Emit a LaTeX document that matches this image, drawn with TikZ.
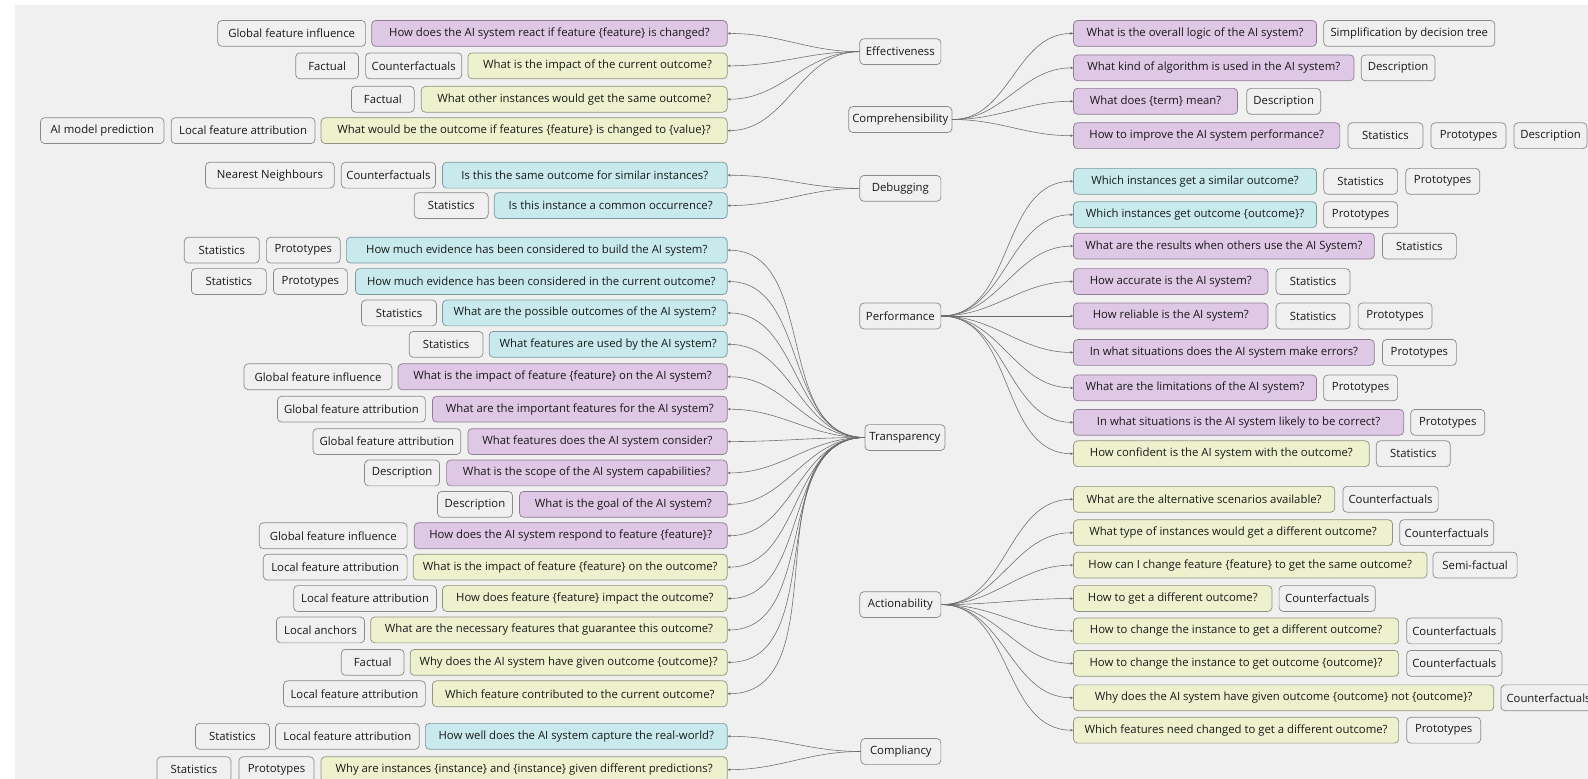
\documentclass[tikz,border=0pt]{standalone}
\usepackage{fontspec}
\setmainfont{Open Sans}
\usetikzlibrary{arrows.meta}
\definecolor{canvas}{HTML}{F0F0F0}
\definecolor{pfill}{HTML}{DFC7E6}
\definecolor{pline}{HTML}{8E7E93}
\definecolor{yfill}{HTML}{EEF1CE}
\definecolor{yline}{HTML}{939380}
\definecolor{cfill}{HTML}{C9EAED}
\definecolor{cline}{HTML}{7A9A9D}
\definecolor{tline}{HTML}{8A8A8A}
\definecolor{wire}{HTML}{6A6A6A}
\tikzset{
  box/.style={rounded corners=4pt, line width=0.7pt, inner xsep=0pt, inner ysep=0pt,
    minimum height=25.5pt, font=\fontsize{11.2}{13}\selectfont, text=black!90},
  tag/.style={box, draw=tline, fill=canvas},
  cat/.style={box, draw=tline, fill=canvas},
  qp/.style={box, draw=pline, fill=pfill},
  qy/.style={box, draw=yline, fill=yfill},
  qc/.style={box, draw=cline, fill=cfill},
  edge/.style={draw=wire, line width=0.55pt, -{Stealth[length=3pt,width=2.6pt]}},
}
% \bx{style}{name}{left}{right}{y}{text}
\newcommand\bx[6]{\node[#1, minimum width={(#4-#3)*1pt}] (#2) at ({(#3+#4)/2}, -#5) {#6};}
\begin{document}
\begin{tikzpicture}[x=1pt, y=1pt]
\fill[white] (0,0) rectangle (1568,-769);
\fill[canvas] (14.8,-5) rectangle (1568,-769);
\useasboundingbox (0,0) rectangle (1568,-769);

% ---------- categories ----------
\bx{cat}{eff}{849}{929}{51}{Effectiveness}
\bx{cat}{dbg}{849}{929}{186}{Debugging}
\bx{cat}{tra}{854}{933}{432}{Transparency}
\bx{cat}{cmp}{850}{929}{742}{Compliancy}
\bx{cat}{com}{838}{940}{118}{Comprehensibility}
\bx{cat}{per}{849}{929}{312}{Performance}
\bx{cat}{act}{849}{929}{597}{Actionability}

% ---------- Effectiveness ----------
\bx{qp}{q1}{367}{718}{33}{How does the AI system react if feature \{feature\} is changed?}
\bx{tag}{t1a}{215}{361}{33}{Global feature influence}
\bx{qy}{q2}{462}{718}{65}{What is the impact of the current outcome?}
\bx{tag}{t2a}{361}{456}{65}{Counterfactuals}
\bx{tag}{t2b}{292}{354}{65}{Factual}
\bx{qy}{q3}{416}{718}{98}{What other instances would get the same outcome?}
\bx{tag}{t3a}{347}{409}{98}{Factual}
\bx{qy}{q4}{317}{718}{129}{What would be the outcome if features \{feature\} is changed to \{value\}?}
\bx{tag}{t4a}{169}{311}{129}{Local feature attribution}
\bx{tag}{t4b}{40}{162}{129}{AI model prediction}

% ---------- Debugging ----------
\bx{qc}{q5}{437}{718}{173}{Is this the same outcome for similar instances?}
\bx{tag}{t5a}{337}{430}{173}{Counterfactuals}
\bx{tag}{t5b}{203}{330}{173}{Nearest Neighbours}
\bx{qc}{q6}{488}{718}{203}{Is this instance a common occurrence?}
\bx{tag}{t6a}{409}{482}{203}{Statistics}

% ---------- Transparency ----------
\bx{qc}{q7}{342}{718}{247}{How much evidence has been considered to build the AI system?}
\bx{tag}{t7a}{263}{336}{247}{Prototypes}
\bx{tag}{t7b}{182}{256}{247}{Statistics}
\bx{qc}{q8}{351}{718}{278}{How much evidence has been considered in the current outcome?}
\bx{tag}{t8a}{270}{343}{278}{Prototypes}
\bx{tag}{t8b}{189}{263}{278}{Statistics}
\bx{qc}{q9}{437}{718}{309}{What are the possible outcomes of the AI system?}
\bx{tag}{t9a}{357}{431}{309}{Statistics}
\bx{qc}{q10}{483}{718}{340}{What features are used by the AI system?}
\bx{tag}{t10a}{404}{477}{340}{Statistics}
\bx{qp}{q11}{393}{718}{372}{What is the impact of feature \{feature\} on the AI system?}
\bx{tag}{t11a}{241}{387}{372}{Global feature influence}
\bx{qp}{q12}{427}{718}{404}{What are the important features for the AI system?}
\bx{tag}{t12a}{274}{420}{404}{Global feature attribution}
\bx{qp}{q13}{462}{718}{436}{What features does the AI system consider?}
\bx{tag}{t13a}{309}{455}{436}{Global feature attribution}
\bx{qp}{q14}{441}{718}{467}{What is the scope of the AI system capabilities?}
\bx{tag}{t14a}{360}{434}{467}{Description}
\bx{qp}{q15}{513}{718}{498}{What is the goal of the AI system?}
\bx{tag}{t15a}{432}{506}{498}{Description}
\bx{qp}{q16}{409}{718}{529}{How does the AI system respond to feature \{feature\}?}
\bx{tag}{t16a}{256}{402}{529}{Global feature influence}
\bx{qy}{q17}{408}{718}{560}{What is the impact of feature \{feature\} on the outcome?}
\bx{tag}{t17a}{260}{402}{560}{Local feature attribution}
\bx{qy}{q18}{437}{718}{591}{How does feature \{feature\} impact the outcome?}
\bx{tag}{t18a}{290}{431}{591}{Local feature attribution}
\bx{qy}{q19}{366}{718}{622}{What are the necessary features that guarantee this outcome?}
\bx{tag}{t19a}{273}{360}{622}{Local anchors}
\bx{qy}{q20}{405}{718}{654}{Why does the AI system have given outcome \{outcome\}?}
\bx{tag}{t20a}{337}{399}{654}{Factual}
\bx{qy}{q21}{427}{718}{685}{Which feature contributed to the current outcome?}
\bx{tag}{t21a}{280}{420}{685}{Local feature attribution}

% ---------- Compliancy ----------
\bx{qc}{q22}{420}{718}{727}{How well does the AI system capture the real-world?}
\bx{tag}{t22a}{272}{414}{727}{Local feature attribution}
\bx{tag}{t22b}{193}{266}{727}{Statistics}
\bx{qy}{q23}{317}{718}{760}{Why are instances \{instance\} and \{instance\} given different predictions?}
\bx{tag}{t23a}{236}{310}{760}{Prototypes}
\bx{tag}{t23b}{155}{228}{760}{Statistics}

% ---------- Comprehensibility ----------
\bx{qp}{q24}{1060}{1300}{33}{What is the overall logic of the AI system?}
\bx{tag}{t24a}{1307}{1476}{33}{Simplification by decision tree}
\bx{qp}{q25}{1060}{1337}{67}{What kind of algorithm is used in the AI system?}
\bx{tag}{t25a}{1344}{1417}{67}{Description}
\bx{qp}{q26}{1060}{1222}{100}{What does \{term\} mean?}
\bx{tag}{t26a}{1231}{1304}{100}{Description}
\bx{qp}{q27}{1060}{1323}{134}{How to improve the AI system performance?}
\bx{tag}{t27a}{1331}{1405}{134}{Statistics}
\bx{tag}{t27b}{1413}{1487}{134}{Prototypes}
\bx{tag}{t27c}{1495}{1567}{134}{Description}

% ---------- Performance ----------
\bx{qc}{q28}{1060}{1300}{179}{Which instances get a similar outcome?}
\bx{tag}{t28a}{1307}{1380}{179}{Statistics}
\bx{tag}{t28b}{1388}{1461}{179}{Prototypes}
\bx{qc}{q29}{1060}{1300}{212}{Which instances get outcome \{outcome\}?}
\bx{tag}{t29a}{1307}{1380}{212}{Prototypes}
\bx{qp}{q30}{1060}{1357}{243}{What are the results when others use the AI System?}
\bx{tag}{t30a}{1365}{1438}{243}{Statistics}
\bx{qp}{q31}{1060}{1252}{278}{How accurate is the AI system?}
\bx{tag}{t31a}{1260}{1333}{278}{Statistics}
\bx{qp}{q32}{1060}{1252}{312}{How reliable is the AI system?}
\bx{tag}{t32a}{1260}{1333}{312}{Statistics}
\bx{tag}{t32b}{1341}{1414}{312}{Prototypes}
\bx{qp}{q33}{1060}{1357}{348}{In what situations does the AI system make errors?}
\bx{tag}{t33a}{1365}{1438}{348}{Prototypes}
\bx{qp}{q34}{1060}{1300}{383}{What are the limitations of the AI system?}
\bx{tag}{t34a}{1307}{1380}{383}{Prototypes}
\bx{qp}{q35}{1060}{1386}{417}{In what situations is the AI system likely to be correct?}
\bx{tag}{t35a}{1393}{1466}{417}{Prototypes}
\bx{qy}{q36}{1060}{1352}{448}{How confident is the AI system with the outcome?}
\bx{tag}{t36a}{1359}{1432}{448}{Statistics}

% ---------- Actionability ----------
\bx{qy}{q37}{1060}{1318}{493}{What are the alternative scenarios available?}
\bx{tag}{t37a}{1326}{1420}{493}{Counterfactuals}
\bx{qy}{q38}{1060}{1375}{526}{What type of instances would get a different outcome?}
\bx{tag}{t38a}{1382}{1475}{526}{Counterfactuals}
\bx{qy}{q39}{1060}{1409}{558}{How can I change feature \{feature\} to get the same outcome?}
\bx{tag}{t39a}{1415}{1498}{558}{Semi-factual}
\bx{qy}{q40}{1060}{1256}{591}{How to get a different outcome?}
\bx{tag}{t40a}{1263}{1358}{591}{Counterfactuals}
\bx{qy}{q41}{1060}{1381}{623}{How to change the instance to get a different outcome?}
\bx{tag}{t41a}{1389}{1483}{623}{Counterfactuals}
\bx{qy}{q42}{1060}{1381}{655}{How to change the instance to get outcome \{outcome\}?}
\bx{tag}{t42a}{1389}{1483}{655}{Counterfactuals}
\bx{qy}{q43}{1060}{1475}{689}{Why does the AI system have given outcome \{outcome\} not \{outcome\}?}
\bx{tag}{t43a}{1482}{1576}{689}{Counterfactuals}
\bx{qy}{q44}{1060}{1381}{721}{Which features need changed to get a different outcome?}
\bx{tag}{t44a}{1389}{1462}{721}{Prototypes}

% ---------- connectors ----------
\foreach \q in {q1,q2,q3,q4} \draw[edge] (eff.west) to[out=180,in=0] (\q.east);
\foreach \q in {q5,q6} \draw[edge] (dbg.west) to[out=180,in=0] (\q.east);
\foreach \q in {q7,q8,q9,q10,q11,q12,q13,q14,q15,q16,q17,q18,q19,q20,q21}
  \draw[edge] (tra.west) to[out=180,in=0] (\q.east);
\foreach \q in {q22,q23} \draw[edge] (cmp.west) to[out=180,in=0] (\q.east);
\foreach \q in {q24,q25,q26,q27} \draw[edge] (com.east) to[out=0,in=180] (\q.west);
\foreach \q in {q28,q29,q30,q31,q32,q33,q34,q35,q36} \draw[edge] (per.east) to[out=0,in=180] (\q.west);
\foreach \q in {q37,q38,q39,q40,q41,q42,q43,q44} \draw[edge] (act.east) to[out=0,in=180] (\q.west);
\end{tikzpicture}
\end{document}
